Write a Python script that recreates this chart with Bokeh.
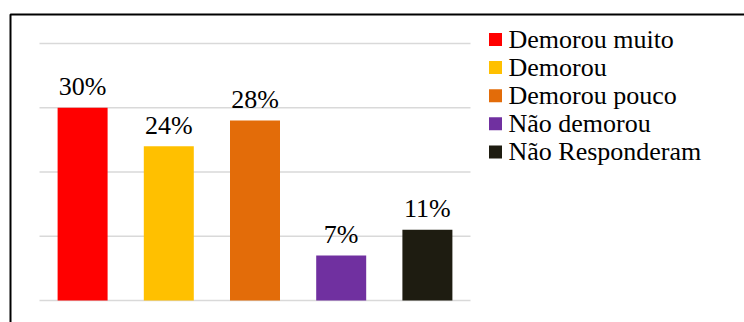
from bokeh.plotting import figure
from bokeh.models import ColumnDataSource, Range1d, BoxAnnotation
from bokeh.core.properties import value
from bokeh.embed import file_html
from bokeh.resources import INLINE

categories = ["Demorou muito", "Demorou", "Demorou pouco", "Não demorou", "Não Responderam"]
values = [30, 24, 28, 7, 11]
labels = ["30%", "24%", "28%", "7%", "11%"]
colors = ["#FF0000", "#FFC000", "#E36C09", "#7030A0", "#1E1C11"]
grid_ticks = [0, 10, 20, 30, 40]

FONT = "Liberation Serif"

W, H = 744, 322
# pixel layout of the chart area
X0_PX, SLOT_PX = 82.1, 86.2        # centre of first category, category pitch
Y0_PX, UNIT_PX = 300.0, 257.0 / 40  # baseline pixel row, pixels per percent

def xd(px):
    return (px - X0_PX) / SLOT_PX

def yd(py):
    return (Y0_PX - py) / UNIT_PX

n = len(categories)
xs = list(range(n))

p = figure(width=W, height=H, output_backend="svg", toolbar_location=None,
           x_range=Range1d(xd(0), xd(W)), y_range=Range1d(yd(H), yd(0)),
           x_axis_type=None, y_axis_type=None,
           min_border=0, min_border_left=0, min_border_right=0,
           min_border_top=0, min_border_bottom=0)
p.outline_line_color = None
p.background_fill_color = "white"
p.border_fill_color = "white"
p.xgrid.visible = False
p.ygrid.visible = False

# horizontal gridlines spanning the category band
p.segment(x0=[-0.5] * len(grid_ticks), x1=[n - 0.5] * len(grid_ticks),
          y0=grid_ticks, y1=grid_ticks, line_color="#D9D9D9", line_width=1.5)

src = ColumnDataSource(dict(x=xs, val=values, lab=labels, col=colors, cat=categories))
p.vbar(x="x", top="val", width=0.58, bottom=0, source=src,
       fill_color="col", line_color=None)

p.text(x="x", y="val", text="lab", source=src, y_offset=-21,
       text_align="center", text_baseline="middle",
       text_font=value(FONT), text_font_size=value("26px"),
       text_color="#000000")

# legend (drawn manually for exact spacing)
leg_rows_px = [39 + 28.1 * i for i in range(n)]
leg_src = ColumnDataSource(dict(
    x=[xd(495)] * n, tx=[xd(508)] * n,
    y=[yd(r) for r in leg_rows_px], ty=[yd(r) for r in leg_rows_px],
    col=colors, cat=categories))
p.scatter(x="x", y="y", marker="square", size=13, source=leg_src,
          fill_color="col", line_color=None)
p.text(x="tx", y="ty", text="cat", source=leg_src,
       text_align="left", text_baseline="middle",
       text_font=value(FONT), text_font_size=value("26px"),
       text_color="#000000")

# outer chart border (top and left edges visible)
p.add_layout(BoxAnnotation(left=10, top=14, right=W + 50, bottom=H + 50,
                           left_units="canvas", right_units="canvas",
                           top_units="canvas", bottom_units="canvas",
                           fill_alpha=0, line_color="#000000", line_alpha=1.0,
                           line_width=2))

open("out.html", "w").write(file_html(p, INLINE))
